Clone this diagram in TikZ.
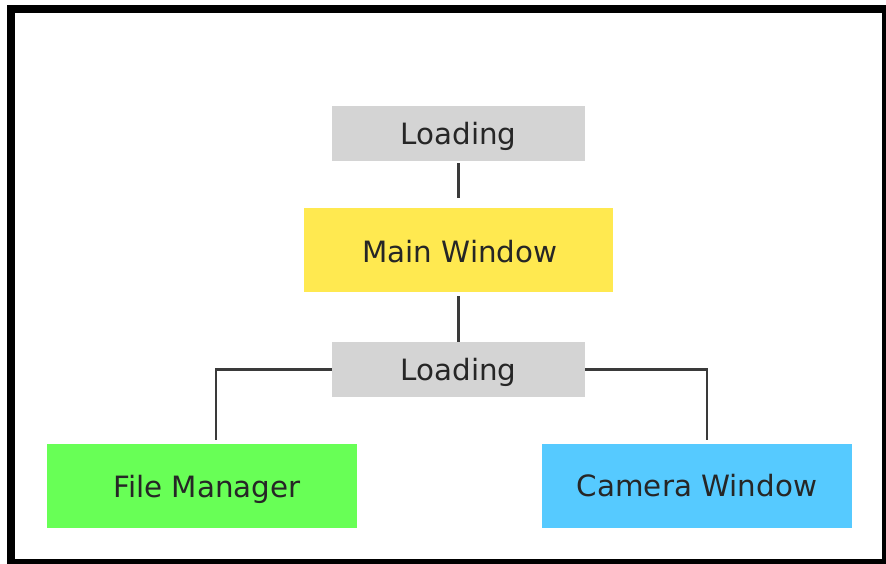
\documentclass[tikz,border=0pt]{standalone}
\usepackage{fontspec}
\setmainfont{DejaVu Sans}
\usetikzlibrary{calc}
\definecolor{boxgray}{RGB}{212,212,212}
\definecolor{boxyellow}{RGB}{255,233,80}
\definecolor{boxgreen}{RGB}{104,255,86}
\definecolor{boxblue}{RGB}{86,202,255}
\definecolor{wire}{RGB}{58,58,58}
\tikzset{
  box/.style={draw=none, inner sep=0pt, align=center,
    font=\fontsize{22pt}{26pt}\selectfont, text=black!85,
    text height=16pt, text depth=0pt},
  smallbox/.style={box, fill=boxgray, minimum width=189.75pt, minimum height=41.25pt},
  bigbox/.style={box, minimum width=231.75pt, minimum height=63pt},
  link/.style={draw=wire, line width=1.9pt},
}
\begin{document}
\begin{tikzpicture}[x=0.75pt,y=-0.75pt]
  \useasboundingbox (0,0) rectangle (886,564);
  \fill[white] (0,0) rectangle (886,564);
  % outer frame
  \draw[line width=6pt] (11,9) rectangle (886,563);

  \node[smallbox] (load1) at (458.5,133.5) {Loading};
  \node[bigbox, fill=boxyellow] (main) at (458.5,250) {};
  \node[box] (maintext) at (460,252) {Main Window};
  \node[smallbox] (load2) at (458.5,369.5) {Loading};
  \node[bigbox, fill=boxgreen, minimum width=232.5pt] (fm) at (202,486) {};
  \node[box] (fmtext) at (207,487) {File Manager};
  \node[bigbox, fill=boxblue, minimum width=232.5pt] (cw) at (697,486) {Camera Window};

  \draw[link] ($(load1.south)+(0,2)$) -- ($(main.north)+(0,-10)$);
  \draw[link] ($(main.south)+(0,4)$) -- (load2.north);
  \draw[link] (load2.west) -| ($(fm.north)+(14,-4)$);
  \draw[link] (load2.east) -| ($(cw.north)+(10,-4)$);
\end{tikzpicture}
\end{document}
